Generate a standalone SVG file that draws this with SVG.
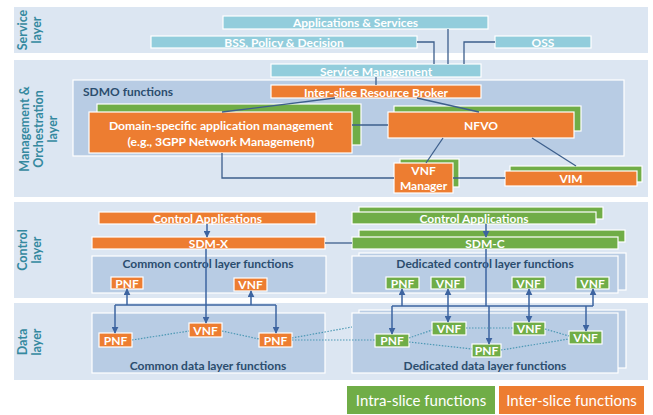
<svg xmlns="http://www.w3.org/2000/svg" width="653" height="415" viewBox="0 0 653 415">
<defs>
<style>
text{font-family:Lato,"Liberation Sans",Arial,sans-serif;}
.band{fill:#dce6f2;}
.inner{fill:#b8cce4;stroke:#ffffff;stroke-width:1.2;}
.org{fill:#ed7d31;stroke:#ffffff;stroke-width:1.2;}
.grn{fill:#70ad47;stroke:#ffffff;stroke-width:1.2;}
.tel{fill:#92cddc;stroke:#ffffff;stroke-width:1.2;}
.wt{fill:#ffffff;font-size:12px;font-weight:bold;text-anchor:middle;}
.dk{fill:#2b4d6e;font-size:12px;font-weight:bold;text-anchor:middle;}
.lay{fill:#35899f;font-size:12.5px;font-weight:bold;text-anchor:middle;}
.ln{fill:none;stroke:#3d5f8c;stroke-width:1.3;}
.ar{fill:none;stroke:#3d64a0;stroke-width:1.5;}
.dot{fill:none;stroke:#4c98b4;stroke-width:1.2;stroke-dasharray:1.5 1.5;}
.leg{fill:#ffffff;font-size:15px;text-anchor:middle;}
</style>
<marker id="ah" viewBox="0 0 10 10" refX="9" refY="5" markerUnits="userSpaceOnUse" markerWidth="7" markerHeight="7" orient="auto-start-reverse">
<path d="M0,0 L10,5 L0,10 z" fill="#3d64a0"/>
</marker>
</defs>
<rect width="653" height="415" fill="#ffffff"/>

<g id="layers">
<rect class="band" x="14" y="7" width="634" height="46"/>
<rect class="band" x="14" y="60" width="634" height="137"/>
<rect class="band" x="14" y="202" width="634" height="96"/>
<rect class="band" x="14" y="303" width="634" height="77"/>
<g transform="translate(27,30) rotate(-90)"><text class="lay" x="0" y="0">Service</text><text class="lay" x="0" y="14">layer</text></g>
<g transform="translate(28.5,129) rotate(-90)"><text class="lay" x="0" y="0">Management &amp;</text><text class="lay" x="0" y="14.5">Orchestration</text><text class="lay" x="0" y="28.5">layer</text></g>
<g transform="translate(27,250) rotate(-90)"><text class="lay" x="0" y="0">Control</text><text class="lay" x="0" y="14">layer</text></g>
<g transform="translate(27,342) rotate(-90)"><text class="lay" x="0" y="0">Data</text><text class="lay" x="0" y="14">layer</text></g>
</g>

<g id="sdmo">
<rect class="inner" x="73" y="80" width="551" height="76"/>
<text class="dk" x="83" y="96" style="text-anchor:start">SDMO functions</text>
</g>
<g id="common-control">
<rect class="inner" x="92" y="256" width="234" height="37"/>
<text class="dk" x="208" y="268">Common control layer functions</text>
</g>
<g id="common-data">
<rect class="inner" x="92" y="313" width="233" height="60"/>
<text class="dk" x="208" y="369.5">Common data layer functions</text>
</g>
<g id="dedicated-control">
<rect class="inner" x="359" y="253" width="267" height="37"/>
<rect class="inner" x="352" y="256" width="266" height="37"/>
<text class="dk" x="485" y="268">Dedicated control layer functions</text>
</g>
<g id="dedicated-data">
<rect class="inner" x="359" y="310" width="267" height="58"/>
<rect class="inner" x="352" y="313" width="266" height="60"/>
<text class="dk" x="485" y="369.5">Dedicated data layer functions</text>
</g>

<g id="apps-services"><rect class="tel" x="223" y="16" width="265" height="13"/><text class="wt" x="355.5" y="27">Applications &amp; Services</text></g>
<g id="bss"><rect class="tel" x="151" y="36" width="266" height="12"/><text class="wt" x="284" y="46.5">BSS, Policy &amp; Decision</text></g>
<g id="oss"><rect class="tel" x="495" y="36" width="96" height="12"/><text class="wt" x="543" y="46.5">OSS</text></g>
<g id="service-mgmt"><rect class="tel" x="271" y="64" width="210" height="13"/><text class="wt" x="376" y="75.5">Service Management</text></g>
<g id="broker"><rect class="org" x="271" y="85" width="210" height="13"/><text class="wt" x="376" y="96.5">Inter-slice Resource Broker</text></g>
<g id="domain-mgmt">
<rect class="grn" x="97" y="104" width="264" height="41"/>
<rect class="org" x="89" y="112" width="263" height="41"/>
<text class="wt" x="221" y="130" style="font-size:12.2px">Domain-specific application management</text>
<text class="wt" x="221" y="146" style="font-size:12.2px">(e.g., 3GPP Network Management)</text>
</g>
<g id="nfvo">
<rect class="grn" x="394" y="106" width="187" height="25"/>
<rect class="org" x="388" y="112" width="186" height="26"/>
<text class="wt" x="481" y="129.5">NFVO</text>
</g>
<g id="vnf-manager">
<rect class="grn" x="400" y="159" width="59" height="28"/>
<rect class="org" x="394" y="163" width="59" height="30"/>
<text class="wt" x="423.5" y="174.5">VNF</text>
<text class="wt" x="423.5" y="189.5">Manager</text>
</g>
<g id="vim">
<rect class="grn" x="510" y="166" width="132" height="16"/>
<rect class="org" x="505" y="171" width="132" height="15"/>
<text class="wt" x="571" y="183">VIM</text>
</g>

<g id="control-apps-x"><rect class="org" x="99" y="212" width="217" height="12"/><text class="wt" x="207.5" y="222.5">Control Applications</text></g>
<g id="sdm-x"><rect class="org" x="92" y="237" width="233" height="12"/><text class="wt" x="208.5" y="247.5">SDM-X</text></g>
<g id="control-apps-c"><rect class="grn" x="359" y="207" width="244" height="12"/><rect class="grn" x="352" y="212" width="244" height="12"/><text class="wt" x="474" y="222.5">Control Applications</text></g>
<g id="sdm-c"><rect class="grn" x="359" y="230" width="266" height="12"/><rect class="grn" x="352" y="237" width="266" height="12"/><text class="wt" x="485" y="247.5">SDM-C</text></g>

<g id="ccl-pnf"><rect class="org" x="111" y="277" width="32" height="12"/><text class="wt" x="127" y="287.5">PNF</text></g>
<g id="ccl-vnf"><rect class="org" x="234" y="278" width="33" height="13"/><text class="wt" x="250.5" y="289">VNF</text></g>
<g id="cdl-pnf1"><rect class="org" x="99" y="333" width="33" height="14"/><text class="wt" x="115.5" y="344.5">PNF</text></g>
<g id="cdl-vnf"><rect class="org" x="189" y="323" width="33" height="14"/><text class="wt" x="205.5" y="334.5">VNF</text></g>
<g id="cdl-pnf2"><rect class="org" x="259" y="333" width="33" height="14"/><text class="wt" x="275.5" y="344.5">PNF</text></g>

<g id="dcl-pnf"><rect class="grn" x="386" y="277" width="33" height="12"/><text class="wt" x="402.5" y="287.5">PNF</text></g>
<g id="dcl-vnf1"><rect class="grn" x="431" y="277" width="34" height="12"/><text class="wt" x="448" y="287.5">VNF</text></g>
<g id="dcl-vnf2"><rect class="grn" x="512" y="277" width="33" height="12"/><text class="wt" x="528.5" y="287.5">VNF</text></g>
<g id="dcl-vnf3"><rect class="grn" x="576" y="277" width="33" height="12"/><text class="wt" x="592.5" y="287.5">VNF</text></g>
<g id="ddl-pnf1"><rect class="grn" x="375" y="334" width="34" height="13"/><text class="wt" x="392" y="345">PNF</text></g>
<g id="ddl-vnf1"><rect class="grn" x="432" y="322" width="34" height="13"/><text class="wt" x="449" y="333">VNF</text></g>
<g id="ddl-pnf2"><rect class="grn" x="472" y="344" width="29" height="13"/><text class="wt" x="486.5" y="355">PNF</text></g>
<g id="ddl-vnf2"><rect class="grn" x="513" y="322" width="32" height="13"/><text class="wt" x="529" y="333">VNF</text></g>
<g id="ddl-vnf3"><rect class="grn" x="569" y="331" width="33" height="13"/><text class="wt" x="585.5" y="342">VNF</text></g>

<g id="legend">
<rect x="347" y="386" width="148" height="28" fill="#70ad47"/>
<text class="leg" x="421" y="406">Intra-slice functions</text>
<rect x="499" y="386" width="145" height="28" fill="#ed7d31"/>
<text class="leg" x="571.5" y="406">Inter-slice functions</text>
</g>

<g id="connectors">
<polyline class="ln" points="417,42 434,42 434,64"/>
<line class="ln" x1="448" y1="29" x2="448" y2="64"/>
<polyline class="ln" points="495,42 464,42 464,64"/>
<line class="ln" x1="376" y1="77" x2="376" y2="85"/>
<line class="ln" x1="335" y1="98" x2="222" y2="112"/>
<line class="ln" x1="417" y1="98" x2="479" y2="112"/>
<line class="ln" x1="352" y1="125" x2="388" y2="125"/>
<line class="ln" x1="443" y1="138" x2="426" y2="163"/>
<line class="ln" x1="532" y1="138" x2="576" y2="166"/>
<polyline class="ln" points="222,153 222,178 394,178"/>
<line class="ln" x1="453" y1="178" x2="505" y2="178"/>
<line class="ln" x1="325" y1="243" x2="352" y2="243"/>

<line class="ar" x1="207" y1="224" x2="207" y2="237" marker-end="url(#ah)"/>
<line class="ar" x1="206" y1="249" x2="206" y2="323" marker-end="url(#ah)"/>
<line class="ar" x1="115" y1="305" x2="276" y2="305"/>
<line class="ar" x1="127" y1="305" x2="127" y2="289" marker-end="url(#ah)"/>
<line class="ar" x1="251" y1="305" x2="251" y2="291" marker-end="url(#ah)"/>
<line class="ar" x1="115" y1="305" x2="115" y2="333" marker-end="url(#ah)"/>
<line class="ar" x1="276" y1="305" x2="276" y2="333" marker-end="url(#ah)"/>

<line class="ar" x1="486" y1="224" x2="486" y2="237" marker-end="url(#ah)"/>
<line class="ar" x1="486" y1="249" x2="486" y2="306"/>
<line class="ar" x1="489" y1="306" x2="489" y2="344" marker-end="url(#ah)"/>
<line class="ar" x1="392" y1="306" x2="593" y2="306"/>
<line class="ar" x1="402" y1="306" x2="402" y2="289" marker-end="url(#ah)"/>
<line class="ar" x1="392" y1="306" x2="392" y2="334" marker-end="url(#ah)"/>
<line class="ar" x1="448" y1="289" x2="448" y2="322" marker-start="url(#ah)" marker-end="url(#ah)"/>
<line class="ar" x1="529" y1="289" x2="529" y2="322" marker-start="url(#ah)" marker-end="url(#ah)"/>
<line class="ar" x1="593" y1="306" x2="593" y2="289" marker-end="url(#ah)"/>
<line class="ar" x1="586" y1="306" x2="586" y2="331" marker-end="url(#ah)"/>

<line class="dot" x1="132" y1="340" x2="189" y2="331"/>
<line class="dot" x1="222" y1="331" x2="259" y2="339"/>
<line class="dot" x1="292" y1="338" x2="352" y2="327"/>
<line class="dot" x1="292" y1="340" x2="375" y2="340"/>
<line class="dot" x1="409" y1="338" x2="432" y2="330"/>
<line class="dot" x1="409" y1="342" x2="472" y2="349"/>
<line class="dot" x1="466" y1="328" x2="513" y2="328"/>
<line class="dot" x1="545" y1="329" x2="569" y2="336"/>
<line class="dot" x1="501" y1="350" x2="569" y2="339"/>
</g>
</svg>
